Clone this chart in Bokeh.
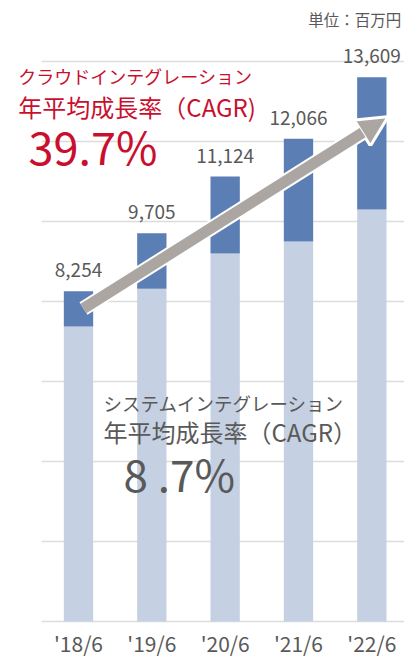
from bokeh.plotting import figure
from bokeh.models import Range1d, Arrow, NormalHead
from bokeh.core.properties import value
from bokeh.embed import file_html
from bokeh.resources import INLINE

# ---- data ----
categories = ["'18/6", "'19/6", "'20/6", "'21/6", "'22/6"]
system_integration = [7375, 8320, 9200, 9500, 10300]
cloud_integration = [879, 1385, 1924, 2566, 3309]
totals = [8254, 9705, 11124, 12066, 13609]
grid_values = [0, 2000, 4000, 6000, 8000, 10000, 12000, 14000]

# ---- styles ----
FONT = "Noto Sans CJK JP"
RED = "#c8102e"
GREY_TXT = "#595959"
DARK = "#5b7fb5"
LIGHT = "#c5d1e3"
ARROW = "#aba6a1"

xs = list(range(1, len(categories) + 1))

p = figure(width=404, height=659, output_backend="svg", toolbar_location=None,
           x_range=Range1d(-0.0637, 5.4456), y_range=Range1d(-950, 15525),
           min_border_left=0, min_border_right=0, min_border_top=0, min_border_bottom=0)
p.outline_line_color = None
p.xgrid.visible = False
p.ygrid.visible = False
p.yaxis.visible = False
p.xaxis.visible = False

# gridlines
p.segment(x0=[0.5] * len(grid_values), x1=[5.5] * len(grid_values),
          y0=grid_values, y1=grid_values, line_color="#dcdcdc", line_width=1.5)

# stacked bars
p.vbar(x=xs, top=system_integration, bottom=0, width=0.4, fill_color=LIGHT, line_color=None)
top2 = [a + b for a, b in zip(system_integration, cloud_integration)]
p.vbar(x=xs, top=top2, bottom=system_integration, width=0.4, fill_color=DARK, line_color=None)

# value labels
p.text(x=xs, y=totals, text=[f"{v:,}" for v in totals], text_font=value(FONT),
       text_font_size="19px", text_color=GREY_TXT, text_align="center",
       text_baseline="middle", y_offset=-21)

# category labels
p.text(x=xs, y=[0] * len(xs), text=categories, text_font=value(FONT),
       text_font_size="21px", text_color=GREY_TXT, text_align="center",
       text_baseline="middle", y_offset=21)

# arrow (cloud growth)
arrow_start = (1.068, 7825)
arrow_end = (5.21, 12607)
p.add_layout(Arrow(x_start=arrow_start[0], y_start=arrow_start[1],
                   x_end=arrow_end[0], y_end=arrow_end[1],
                   line_color="white", line_width=15,
                   end=NormalHead(size=29, fill_color="white", line_color="white", line_width=4)))
p.add_layout(Arrow(x_start=arrow_start[0], y_start=arrow_start[1],
                   x_end=arrow_end[0], y_end=arrow_end[1],
                   line_color=ARROW, line_width=11,
                   end=NormalHead(size=29, fill_color=ARROW, line_color="white", line_width=2)))

# annotations
p.text(x=[0.18], y=[13650], text=["クラウドインテグレーション"], text_font=value(FONT),
       text_font_size="18px", text_color=RED, text_baseline="middle")
p.text(x=[0.18], y=[12875], text=["年平均成長率（CAGR)"], text_font=value(FONT),
       text_font_size="24px", text_color=RED, text_baseline="middle")
p.text(x=[0.318], y=[11900], text=["39.7%"], text_font=value(FONT),
       text_font_size="45px", text_color=RED, text_baseline="middle")

p.text(x=[1.341], y=[5475], text=["システムインテグレーション"], text_font=value(FONT),
       text_font_size="18.5px", text_color=GREY_TXT, text_baseline="middle")
p.text(x=[1.341], y=[4750], text=["年平均成長率（CAGR）"], text_font=value(FONT),
       text_font_size="24px", text_color=GREY_TXT, text_baseline="middle")
p.text(x=[1.614], y=[3720], text=["8 .7%"], text_font=value(FONT),
       text_font_size="44px", text_color=GREY_TXT, text_baseline="middle")

p.text(x=[5.4], y=[15075], text=["単位：百万円"], text_font=value(FONT),
       text_font_size="15.5px", text_color=GREY_TXT, text_align="right", text_baseline="middle")

open("out.html", "w").write(file_html(p, INLINE))
